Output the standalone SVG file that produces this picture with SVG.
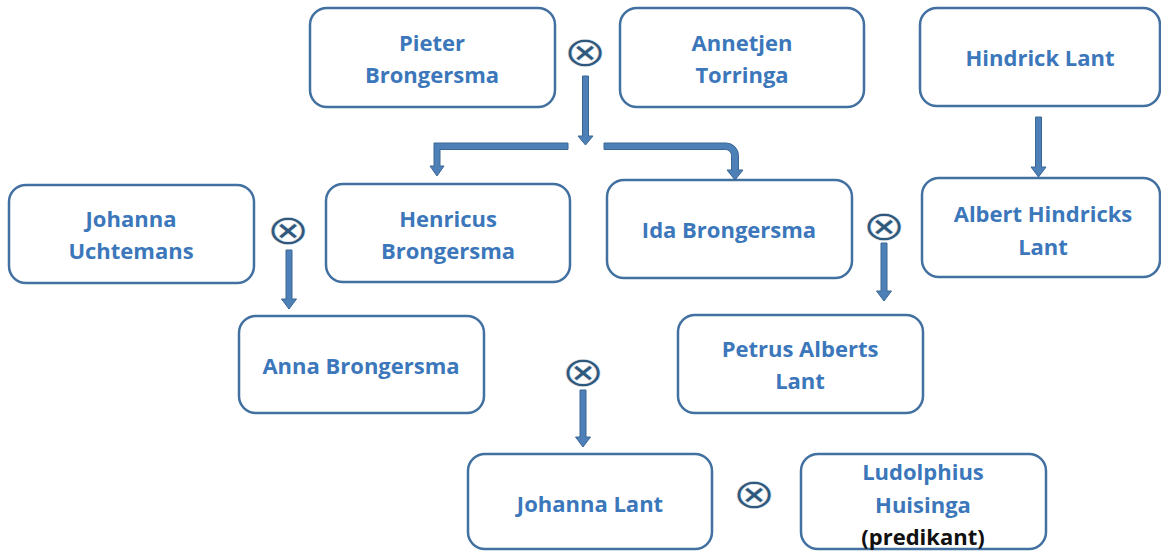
<svg xmlns="http://www.w3.org/2000/svg" width="1161" height="551" viewBox="0 0 1161 551">
<style>
.box{fill:#fff;stroke:#4270a0;stroke-width:2.5}
.t{font-family:"Open Sans","Liberation Sans",sans-serif;font-weight:700;font-size:22px;fill:#3b77ba;text-anchor:middle}
.k{fill:#111}
.x{font-family:"DejaVu Sans",sans-serif;font-size:52px;fill:#2f587c;stroke:#fff;stroke-width:0.6;text-anchor:middle}
.ar{fill:#4e80b8;stroke:#3a6695;stroke-width:1}
</style>
<rect width="1161" height="551" fill="#fff"/>
<g id="n-pieter"><rect class="box" x="310" y="8" width="245" height="99" rx="17"/><text class="t" x="432" y="51">Pieter</text><text class="t" x="432" y="83">Brongersma</text></g>
<g id="n-annetjen"><rect class="box" x="620" y="8" width="244" height="99" rx="17"/><text class="t" x="742" y="51">Annetjen</text><text class="t" x="742" y="83">Torringa</text></g>
<g id="n-hindrick"><rect class="box" x="920" y="8" width="240" height="98" rx="17"/><text class="t" x="1040" y="66">Hindrick Lant</text></g>
<g id="n-johannau"><rect class="box" x="9" y="185" width="245" height="98" rx="17"/><text class="t" x="131" y="227">Johanna</text><text class="t" x="131" y="259">Uchtemans</text></g>
<g id="n-henricus"><rect class="box" x="326" y="184" width="244" height="98" rx="17"/><text class="t" x="448" y="227">Henricus</text><text class="t" x="448" y="259">Brongersma</text></g>
<g id="n-ida"><rect class="box" x="607" y="180" width="245" height="98" rx="17"/><text class="t" x="729" y="238">Ida Brongersma</text></g>
<g id="n-albert"><rect class="box" x="922" y="178" width="238" height="99" rx="17"/><text class="t" x="1043" y="222">Albert Hindricks</text><text class="t" x="1043" y="255">Lant</text></g>
<g id="n-anna"><rect class="box" x="239" y="316" width="245" height="97" rx="17"/><text class="t" x="361" y="374">Anna Brongersma</text></g>
<g id="n-petrus"><rect class="box" x="678" y="315" width="245" height="98" rx="17"/><text class="t" x="800" y="357">Petrus Alberts</text><text class="t" x="800" y="389">Lant</text></g>
<g id="n-johannal"><rect class="box" x="468" y="454" width="244" height="95" rx="17"/><text class="t" x="590" y="512">Johanna Lant</text></g>
<g id="n-ludolphius"><rect class="box" x="801" y="454" width="245" height="95" rx="17"/><text class="t" x="923" y="480">Ludolphius</text><text class="t" x="923" y="513">Huisinga</text><text class="t k" x="923" y="545">(predikant)</text></g>
<g id="marriages">
<text class="x" transform="translate(585,52) scale(1,0.8)" y="17">⊗</text>
<text class="x" transform="translate(288,230) scale(1,0.8)" y="17">⊗</text>
<text class="x" transform="translate(884,226) scale(1,0.8)" y="17">⊗</text>
<text class="x" transform="translate(583,372) scale(1,0.8)" y="17">⊗</text>
<text class="x" transform="translate(754,494) scale(1,0.8)" y="17">⊗</text>
</g>
<g id="connectors">
<path class="ar" d="M582.5,76 H588.5 V136 H593 L585.5,145 L578,136 H582.5 Z"/>
<path class="ar" d="M568,143 H434 V166 H430 L437,176 L444,166 H440 V149.5 H568 Z"/>
<path class="ar" d="M604,143 H726 A12.5,12.5 0 0 1 738.5,155.5 V170 H743 L735,180 L727,170 H731.5 V155.5 A6,6 0 0 0 725.5,149.5 H604 Z"/>
<path class="ar" d="M286,250 H292 V299 H296.5 L289,309 L281.5,299 H286 Z"/>
<path class="ar" d="M881,243 H887 V291 H891.5 L884,301 L876.5,291 H881 Z"/>
<path class="ar" d="M1035.5,117 H1041.5 V167 H1046 L1038.5,177 L1031,167 H1035.5 Z"/>
<path class="ar" d="M580,390 H586 V437 H590.5 L583,447 L575.5,437 H580 Z"/>
</g>
</svg>
